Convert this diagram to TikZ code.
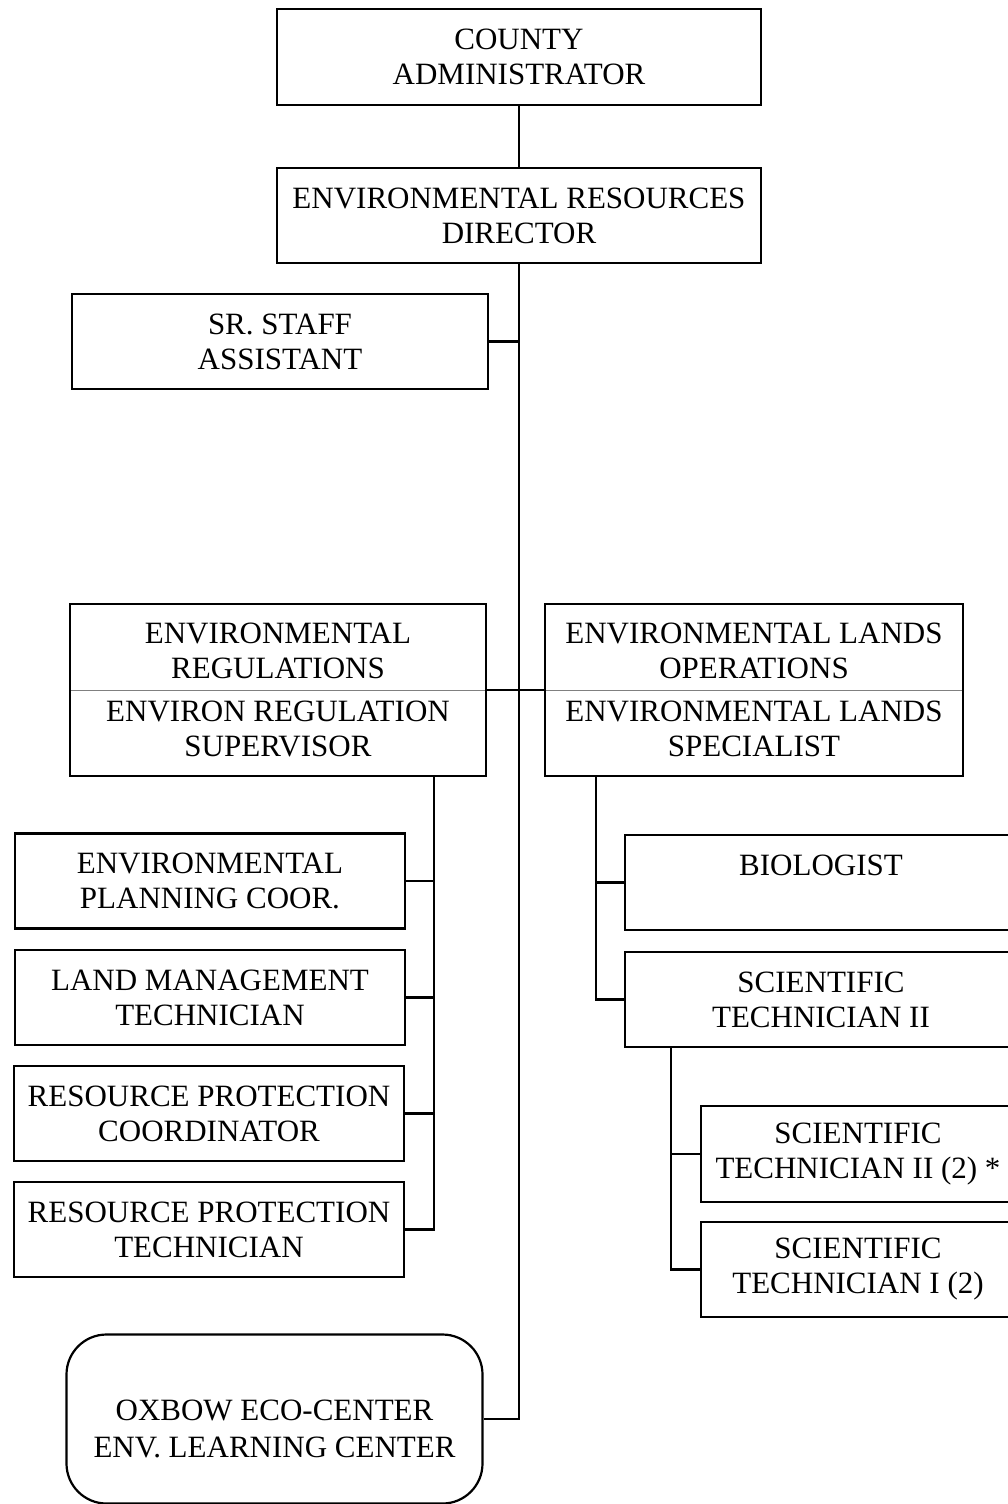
\documentclass[tikz,border=0pt]{standalone}
\usepackage{fontspec}
\setmainfont{Liberation Serif}
\begin{document}
\begin{tikzpicture}[x=1pt,y=-1pt,
  line width=2.2pt,
  post/.style={draw, rectangle, inner sep=0pt, align=center,
    font=\fontsize{31}{35}\selectfont},
  link/.style={line width=2.2pt}]
\useasboundingbox[fill=white] (0,0) rectangle (1008,1504);

% top of the chain
\node[post, minimum width=484, minimum height=96] (ca) at (519,57)
  {COUNTY\\ADMINISTRATOR};
\node[post, minimum width=484, minimum height=95] (erd) at (519,215.5)
  {ENVIRONMENTAL RESOURCES\\DIRECTOR};
\node[post, minimum width=416, minimum height=95] (ssa) at (280,341.5)
  {SR. STAFF\\ASSISTANT};

% divisions (two titles in one box, split by a thin rule)
\node[post, minimum width=416, minimum height=172,
  path picture={\draw[line width=1pt, gray]
    (path picture bounding box.west) -- (path picture bounding box.east);}]
  (ereg) at (278,690)
  {ENVIRONMENTAL\\REGULATIONS\\[8pt]ENVIRON REGULATION\\SUPERVISOR};
\node[post, minimum width=418, minimum height=172,
  path picture={\draw[line width=1pt, gray]
    (path picture bounding box.west) -- (path picture bounding box.east);}]
  (elo) at (754,690)
  {ENVIRONMENTAL LANDS\\OPERATIONS\\[8pt]ENVIRONMENTAL LANDS\\SPECIALIST};

% regulations staff
\node[post, minimum width=390, minimum height=95] (epc) at (210,881)
  {ENVIRONMENTAL\\PLANNING COOR.};
\node[post, minimum width=390, minimum height=95] (lmt) at (210,997.5)
  {LAND MANAGEMENT\\TECHNICIAN};
\node[post, minimum width=390, minimum height=95] (rpc) at (209,1113.5)
  {RESOURCE PROTECTION\\COORDINATOR};
\node[post, minimum width=390, minimum height=95] (rpt) at (209,1229.5)
  {RESOURCE PROTECTION\\TECHNICIAN};

% lands staff
\node[post, minimum width=392, minimum height=95] (bio) at (821,882.5)
  {BIOLOGIST\\\mbox{}};
\node[post, minimum width=392, minimum height=95] (st2) at (821,999.5)
  {SCIENTIFIC\\TECHNICIAN II};
\node[post, minimum width=314, minimum height=96] (st2b) at (858,1154)
  {SCIENTIFIC\\TECHNICIAN II (2) *};
\node[post, minimum width=314, minimum height=95] (st1) at (858,1269.5)
  {SCIENTIFIC\\TECHNICIAN I (2)};

% learning centre
\node[draw, rectangle, rounded corners=40pt, inner sep=0pt,
  minimum width=416, minimum height=169] (oxb) at (274.5,1419) {};
\node[inner sep=0pt, align=center, font=\fontsize{31}{37}\selectfont]
  (oxbt) at ([yshift=-10pt]oxb.center)
  {OXBOW ECO-CENTER\\ENV. LEARNING CENTER};

% bus positions
\coordinate (lbus) at (434,775);
\coordinate (rbus) at (596,775);
\coordinate (sbus) at (671,1047);

% main trunk
\draw[link] (ca.south) -- (erd.north);
\draw[link] (erd.south) -- (erd.south |- oxb.east) -- (oxb.east);
\draw[link] (ssa.east) -- (ssa.east -| erd.south);
\draw[link] (ereg.east) -- (elo.west);

% regulations bus
\draw[link] (ereg.south -| lbus) |- (rpt.east);
\foreach \n in {epc,lmt,rpc}
  \draw[link] (\n.east) -- (\n.east -| lbus);

% lands bus
\draw[link] (elo.south -| rbus) |- (st2.west);
\draw[link] (bio.west) -- (bio.west -| rbus);

% technicians bus
\draw[link] (st2.south -| sbus) |- (st1.west);
\draw[link] (st2b.west) -- (st2b.west -| sbus);
\end{tikzpicture}
\end{document}
